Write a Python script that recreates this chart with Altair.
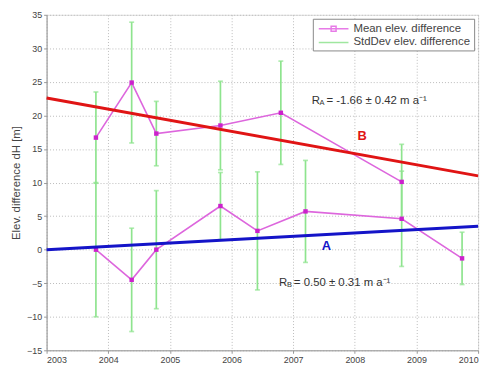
import altair as alt
import pandas as pd

# Series B (upper)
b_year = [2003.80, 2004.38, 2004.78, 2005.82, 2006.80, 2008.76]
b_mean = [16.7, 24.9, 17.3, 18.5, 20.4, 10.1]
b_std = [6.8, 9.0, 4.8, 6.6, 7.7, 5.6]

# Series A (lower)
a_year = [2003.80, 2004.38, 2004.78, 2005.82, 2006.42, 2007.20, 2008.76, 2009.74]
a_mean = [0.0, -4.5, 0.0, 6.5, 2.8, 5.7, 4.6, -1.3]
a_std = [10.0, 7.7, 8.8, 5.0, 8.8, 7.6, 7.1, 3.9]

# Regression lines
fit_year = [2003, 2010]
fit_b = [22.6, 11.0]
fit_a = [0.0, 3.5]

label_b = "= -1.66 \u00b1 0.42 m a\u207b\u00b9"
label_a = "= 0.50 \u00b1 0.31 m a\u207b\u00b9"

x_ticks = [2003, 2004, 2005, 2006, 2007, 2008, 2009, 2010]
y_ticks = [-15, -10, -5, 0, 5, 10, 15, 20, 25, 30, 35]

MEAN = "Mean elev. difference"
STD = "StdDev elev. difference"

pts = pd.DataFrame({
    "year": b_year + a_year,
    "mean": b_mean + a_mean,
    "std": b_std + a_std,
    "grp": ["B"] * len(b_year) + ["A"] * len(a_year),
})
pts["lo"] = pts["mean"] - pts["std"]
pts["hi"] = pts["mean"] + pts["std"]
caps = pd.concat([
    pd.DataFrame({"year": pts["year"], "v": pts["lo"]}),
    pd.DataFrame({"year": pts["year"], "v": pts["hi"]}),
])
fits = pd.DataFrame({
    "year": fit_year * 2,
    "v": fit_b + fit_a,
    "grp": ["B", "B", "A", "A"],
})

xs = alt.Scale(domain=[2003, 2010], nice=False, zero=False)
ys = alt.Scale(domain=[-15, 35], nice=False, zero=False)
XAX = alt.Axis(values=x_ticks, format="d", title=None,
               grid=True, gridDash=[1, 2], gridColor="#bbbbbb",
               domainColor="#999999", tickColor="#999999",
               tickSize=3, labelFontSize=9, labelColor="#444444",
               labelPadding=2, labelOverlap=False)
YAX = alt.Axis(values=y_ticks, title="Elev. difference dH [m]",
               grid=True, gridDash=[1, 2], gridColor="#bbbbbb",
               domainColor="#999999", tickColor="#999999",
               tickSize=3, labelFontSize=9, labelColor="#444444",
               labelPadding=2, labelOverlap=False,
               titleFontSize=11.5, titleFontWeight="normal",
               titleColor="#444444", titlePadding=5)


def X(f="year:Q"):
    return alt.X(f, scale=xs, axis=XAX)


def Y(f):
    return alt.Y(f, scale=ys, axis=YAX)


green = "#8ee48e"
bars = alt.Chart(pts).mark_rule(color=green, strokeWidth=1.7).encode(
    x=X(), y=Y("lo:Q"), y2="hi:Q")
capm = alt.Chart(caps).mark_tick(color=green, thickness=1.7, size=5, orient="horizontal").encode(
    x=X(), y=Y("v:Q"))

lines = alt.Chart(pts).mark_line(color="#dd66dd", strokeWidth=1.6).encode(
    x=X(), y=Y("mean:Q"), detail="grp:N", order="year:Q")
marks = alt.Chart(pts).mark_square(color="#cc22cc", size=20, opacity=1).encode(
    x=X(), y=Y("mean:Q"))

fitl = alt.Chart(fits).mark_line(strokeWidth=3).encode(
    x=X(), y=Y("v:Q"),
    color=alt.Color("grp:N", scale=alt.Scale(domain=["A", "B"], range=["#1414c8", "#e01414"]), legend=None))

# legends (dummy points outside the visible domain, clipped)
leg_mean = alt.Legend(title="\u2014" * 15, titleOrient="bottom", titleFontSize=10.3, titlePadding=1,
                      titleColor="white", titleOpacity=0, titleFontWeight="normal",
                      orient="none", legendX=269, legendY=4,
                      symbolSize=100, symbolType="M-0.8,0H5.2M1.7,-0.5H2.7V0.5H1.7Z",
                      labelFontSize=11.5, labelColor="#444444",
                      fillColor="white", strokeColor="#888888", padding=4,
                      symbolStrokeWidth=1.5, labelOffset=25)
leg_std = alt.Legend(title=None, orient="none", legendX=269, legendY=18, zindex=2,
                     symbolSize=100, symbolType="M-0.8,0H5.2",
                     labelFontSize=11.5, labelColor="#444444", padding=4,
                     symbolStrokeWidth=1.5, labelOffset=25)
mean_leg_df = pd.DataFrame({"series": [MEAN], "year": [2000], "v": [0]})
std_leg_df = pd.DataFrame({"series": [STD], "year": [2000], "v": [0]})
legend1 = alt.Chart(mean_leg_df).mark_point(filled=False, clip=True, strokeWidth=1.5).encode(
    x=X(), y=Y("v:Q"),
    color=alt.Color("series:N", scale=alt.Scale(domain=[MEAN], range=["#dd44dd"]), legend=leg_mean))
legend2 = alt.Chart(std_leg_df).mark_point(filled=False, clip=True, strokeWidth=1.5).encode(
    x=X(), y=Y("v:Q"),
    color=alt.Color("series:N", scale=alt.Scale(domain=[STD], range=["#77dd77"]), legend=leg_std))

texts_df = pd.DataFrame({
    "year": [2007.30, 2006.77],
    "v": [22.2, -5.0],
    "txt": [label_b, label_a],
    "sub": ["A", "B"],
    "letter": ["B", "A"],
    "ly": [17.0, 0.6],
    "lx": [2008.12, 2007.54],
    "grp": ["B", "A"],
})
r_txt = alt.Chart(texts_df).mark_text(text="R", align="left", baseline="middle", fontSize=11.5, color="#333333").encode(
    x=X(), y=Y("v:Q"))
sub_txt = alt.Chart(texts_df).mark_text(align="left", baseline="middle", fontSize=7.5, dx=8, dy=2, color="#333333").encode(
    x=X(), y=Y("v:Q"), text="sub:N")
main_txt = alt.Chart(texts_df).mark_text(align="left", baseline="middle", fontSize=11.5, dx=15, color="#333333").encode(
    x=X(), y=Y("v:Q"), text="txt:N")
letters = alt.Chart(texts_df).mark_text(align="center", baseline="middle", fontSize=13, fontWeight="bold").encode(
    x=X("lx:Q"), y=Y("ly:Q"), text="letter:N",
    color=alt.Color("grp:N", scale=alt.Scale(domain=["A", "B"], range=["#1414c8", "#e01414"]), legend=None))

chart = alt.layer(bars, capm, lines, marks, fitl, legend1, legend2, r_txt, sub_txt, main_txt, letters).resolve_scale(
    color="independent").properties(
    width=436, height=339,
    autosize=alt.AutoSizeParams(type="none"),
    padding={"left": 39, "top": 5, "right": 10, "bottom": 16},
).configure_view(stroke=None).configure(font="Liberation Sans")

chart.save("out.html", embed_options={"renderer": "svg", "actions": False})
